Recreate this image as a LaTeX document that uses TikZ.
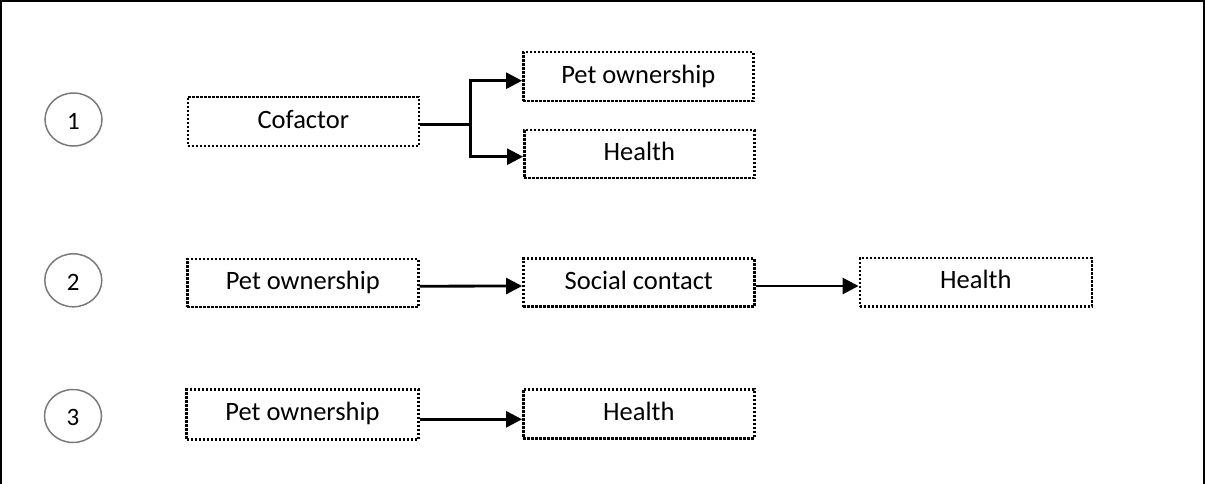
\documentclass[tikz,border=0pt]{standalone}
\usepackage{fontspec}
\setmainfont{Carlito}
\usetikzlibrary{arrows.meta,shapes.geometric}
\begin{document}
\begin{tikzpicture}[x=1pt,y=-1pt,
  numcirc/.style={ellipse,draw=black!52,line width=1.5pt,minimum width=57pt,minimum height=53pt,inner sep=0pt,
    font=\fontsize{25}{28}\selectfont,text height=19.8pt,text depth=0pt},
  dotbox/.style={draw=black,line width=2.5pt,dash pattern=on 2.4pt off 1.6pt,inner sep=0pt,
    font=\fontsize{26.5}{30}\selectfont,text height=18pt,text depth=5pt},
  conn/.style={line width=2.8pt},
  arr/.style={conn,-{Triangle[length=16pt,width=16pt]}}
]
\useasboundingbox (0,0) rectangle (1205,483);
\draw[line width=2pt] (1,484) -- (1,1) -- (1203.5,1) -- (1203.5,484);

% row 1
\node[numcirc] (c1) at (73.5,119.5) {1};
\node[dotbox,minimum width=231pt,minimum height=49pt] (cof) at (303.3,121.5) {Cofactor};
\node[dotbox,minimum width=230pt,minimum height=49pt] (pet1) at (638.3,76.7) {Pet ownership};
\node[dotbox,minimum width=230pt,minimum height=48pt] (hl1) at (639.3,154.2) {Health};
\coordinate (split) at (470.7,124.3);
\draw[conn] ([yshift=-2.8pt]cof.east) -- (split);
\draw[arr] (split) |- ([yshift=-4pt]pet1.west);
\draw[arr] (split) |- ([yshift=-2.5pt]hl1.west);

% row 2
\node[numcirc] (c2) at (73.3,280.3) {2};
\node[dotbox,minimum width=231pt,minimum height=48pt] (pet2) at (302.8,283.2) {Pet ownership};
\node[dotbox,minimum width=231pt,minimum height=48pt] (soc) at (638.8,282.5) {Social contact};
\node[dotbox,minimum width=232pt,minimum height=48.5pt] (hl2) at (975.8,282.3) {Health};
\draw[arr] ([yshift=-3pt]pet2.east) -- ([yshift=-3.5pt]soc.west);
\draw[arr] ([yshift=-3.5pt]soc.east) -- ([yshift=-3.7pt]hl2.west);

% row 3
\node[numcirc] (c3) at (73,416) {3};
\node[dotbox,minimum width=231.6pt,minimum height=50pt] (pet3) at (302.5,414.3) {Pet ownership};
\node[dotbox,minimum width=231pt,minimum height=49pt] (hl3) at (638.8,413.8) {Health};
\draw[arr] ([yshift=-5pt]pet3.east) -- ([yshift=-5.5pt]hl3.west);
\end{tikzpicture}
\end{document}
